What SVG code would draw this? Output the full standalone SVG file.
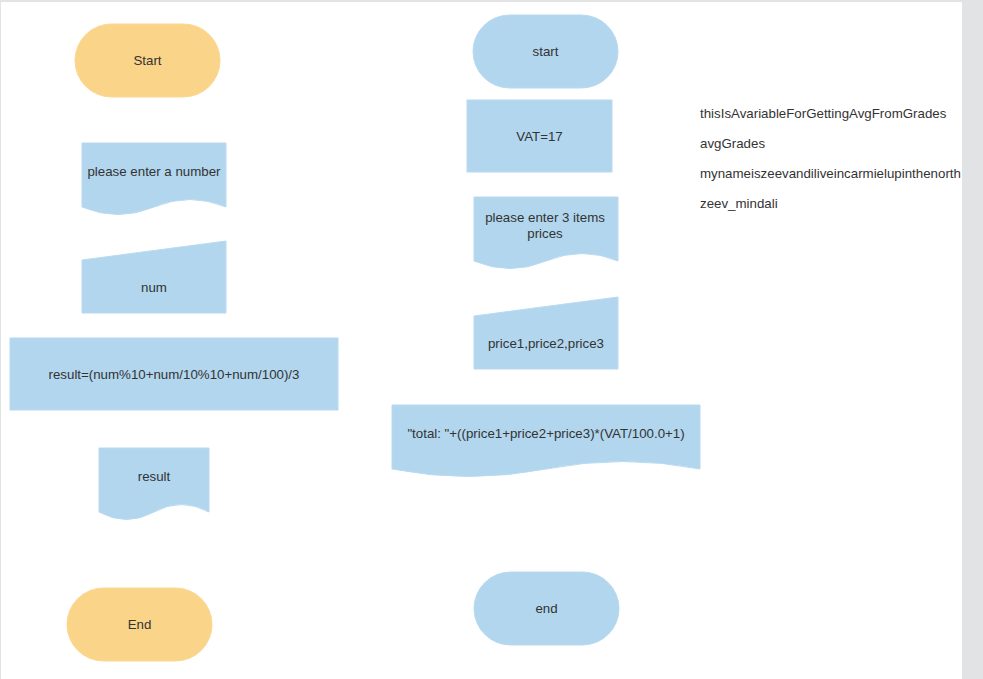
<svg xmlns="http://www.w3.org/2000/svg" width="983" height="679" viewBox="0 0 983 679">
  <style>
    .t { font-family: "Liberation Sans", Arial, Helvetica, sans-serif; font-size: 13.3px; fill: #333333; text-anchor: middle; }
    .lbl { font-family: "Liberation Sans", Arial, Helvetica, sans-serif; font-size: 13.3px; fill: #333333; }
    .blue { fill: #b1d6ee; stroke: #b9daf0; stroke-width: 1; }
    .orange { fill: #fad489; stroke: #fbd890; stroke-width: 1; }
  </style>
  <!-- page frame -->
  <rect x="0" y="0" width="983" height="679" fill="#e2e3e5"/>
  <rect x="1" y="2" width="961" height="677" fill="#ffffff"/>

  <!-- left flow -->
  <g id="start-left">
    <rect class="orange" x="75" y="24" width="145" height="73" rx="36.5"/>
    <text class="t" x="147.5" y="64.5">Start</text>
  </g>
  <g id="prompt-number">
    <path class="blue" d="M82,143 H226 V207 Q190,192 154,207 Q118,222 82,207 Z"/>
    <text class="t" x="154" y="175.5">please enter a number</text>
  </g>
  <g id="input-num">
    <path class="blue" d="M82,260 L226,241 V313 H82 Z"/>
    <text class="t" x="154" y="291.5">num</text>
  </g>
  <g id="calc-result">
    <rect class="blue" x="10" y="338" width="328" height="72"/>
    <text class="t" x="174" y="378.5">result=(num%10+num/10%10+num/100)/3</text>
  </g>
  <g id="output-result">
    <path class="blue" d="M99,448 H209 V512 Q181.5,497 154,512 Q126.5,527 99,512 Z"/>
    <text class="t" x="154" y="480.5">result</text>
  </g>
  <g id="end-left">
    <rect class="orange" x="67" y="588" width="145" height="73" rx="36.5"/>
    <text class="t" x="139.5" y="628.5">End</text>
  </g>

  <!-- right flow -->
  <g id="start-right">
    <rect class="blue" x="473" y="15" width="145" height="73" rx="36.5"/>
    <text class="t" x="545.5" y="56">start</text>
  </g>
  <g id="vat">
    <rect class="blue" x="467" y="100" width="145" height="72"/>
    <text class="t" x="539.5" y="140.5">VAT=17</text>
  </g>
  <g id="prompt-prices">
    <path class="blue" d="M474,197 H618 V261 Q582,246 546,261 Q510,276 474,261 Z"/>
    <text class="t" x="545" y="221.5">please enter 3 items</text>
    <text class="t" x="545" y="237.5">prices</text>
  </g>
  <g id="input-prices">
    <path class="blue" d="M474,316 L618,297 V369 H474 Z"/>
    <text class="t" x="546" y="347.5">price1,price2,price3</text>
  </g>
  <g id="output-total">
    <path class="blue" d="M392,405 H700 V469 Q623,454 546,469 Q469,484 392,469 Z"/>
    <text class="t" x="546" y="437.5">"total: "+((price1+price2+price3)*(VAT/100.0+1)</text>
  </g>
  <g id="end-right">
    <rect class="blue" x="474" y="572" width="145" height="73" rx="36.5"/>
    <text class="t" x="546.5" y="612.5">end</text>
  </g>

  <!-- free-standing labels -->
  <g id="labels">
    <text class="lbl" x="700" y="117.5">thisIsAvariableForGettingAvgFromGrades</text>
    <text class="lbl" x="700" y="147.5">avgGrades</text>
    <text class="lbl" x="700" y="177.5">mynameiszeevandiliveincarmielupinthenorth</text>
    <text class="lbl" x="700" y="207.5">zeev_mindali</text>
  </g>

  <!-- connectors (none drawn) -->
  <g id="connectors"/>
</svg>
